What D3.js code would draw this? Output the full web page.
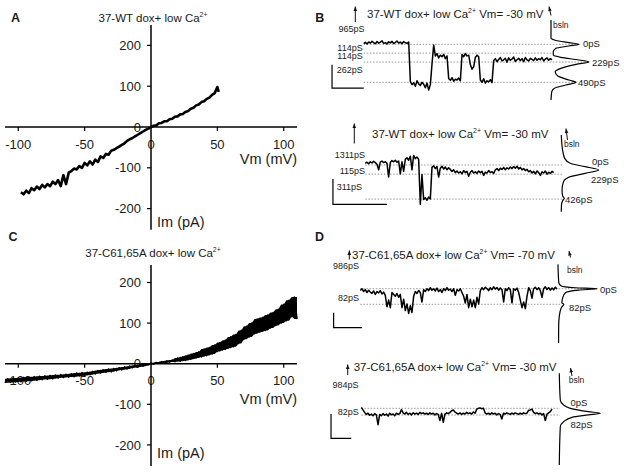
<!DOCTYPE html>
<html><head><meta charset="utf-8">
<script src="https://cdn.jsdelivr.net/npm/d3@7"></script>
<style>
body{margin:0;background:#fff}
svg text{font-family:"Liberation Sans",Arial,Helvetica,sans-serif;fill:#1a1a1a}
</style></head>
<body><svg id="chart" width="624" height="472"></svg>
<script>
// ================= DATA =================
const ivTicksX = [-100, -50, 0, 50, 100];
const ivTicksY = [-200, -100, 0, 100, 200];

// Panel A : 37-WT I/V ramp (Vm mV, Im pA)
const aVm = [-98,-96,-94,-92,-90,-88,-86,-84,-82,-80,-78,-76,-74,-72,-70,-68,-66,-64,-62,-60,
  -58,-56,-54,-52,-50,-48,-46,-44,-42,-40,-38,-36,-34,-32,-30,-28,-26,-24,-22,-20,
  -18,-16,-14,-12,-10,-8,-6,-4,-2,0,2,4,6,8,10,12,14,16,18,20,
  22,24,26,28,30,32,34,36,38,40,42,44,46,48,50,51];
const aIm = [-160,-165,-156,-162,-150,-155,-146,-152,-142,-148,-140,-145,-134,-140,-130,-145,-118,-140,-112,-108,
  -102,-104,-96,-100,-88,-94,-84,-92,-80,-86,-72,-76,-66,-68,-58,-56,-52,-48,-44,-40,
  -34,-30,-27,-23,-19,-15,-11,-7,-4,0,3,4,9,10,14,14,19,20,25,26,
  31,32,37,39,45,47,53,55,61,63,69,72,79,83,98,86];

// Panel C : 37-C61,65A I/V ramp (noisy band, alternating samples)
const cVm = [-110,-108,-106,-104,-102,-100,-98,-96,-94,-92,-90,-88,-86,-84,-82,-80,-78,-76,-74,-72,
  -70,-68,-66,-64,-62,-60,-58,-56,-54,-52,-50,-48,-46,-44,-42,-40,-38,-36,-34,-32,
  -30,-28,-26,-24,-22,-20,-18,-16,-14,-12,-10,-8,-6,-4,-2,0,2,4,6,8,
  10,12,14,16,18,20,22,24,26,28,30,32,34,36,38,40,42,44,46,48,
  50,52,54,56,58,60,62,64,66,68,70,72,74,76,78,80,82,84,86,88,
  90,92,94,96,98,100,102,104,106,108,110];
const cIm = [-47,-37,-46,-36,-45,-35,-44,-34,-43,-33,-42,-32,-41,-31,-39,-30,-38,-29,-37,-28,
  -35,-27,-34,-26,-33,-25,-32,-23,-30,-22,-29,-21,-27,-19,-25,-17,-23,-15,-21,-13,
  -20,-12,-17,-10,-15,-8,-13,-6,-10,-4,-8,-2,-6,0,-3,1,-1,3,1,5,
  2,7,4,9,5,14,6,17,8,21,11,25,14,29,17,36,20,40,24,46,
  30,52,34,58,38,66,42,72,50,82,60,92,66,100,74,110,78,114,82,120,
  88,126,94,134,100,146,106,156,116,164,110];

// Panel B (top) : single-channel conductance trace (pS), uniform samples
const bTopTrace = [-10,-25,-5,-30,-15,-40,-20,-8,-35,-15,-28,-45,-12,-22,-5,-32,-18,-38,-10,-25,-42,-15,-28,-8,-35,-20,-12,-30,
  480,520,495,540,470,510,530,490,515,560,500,590,520,
  250,10,
  150,120,175,140,160,130,185,150,
  440,465,430,475,450,460,435,470,
  130,160,120,150,140,
  260,320,290,
  170,140,160,
  460,490,445,500,470,485,455,495,
  210,185,225,195,170,215,200,180,230,175,205,190,165,220,200,180,210,185,225,170,200,215,180,195,210,175,205,185,200,170,215,190,175,205,185,200];
const bTopLevels = [0, 114, 229, 490];
const bTopHistLv = [-313,-77,-56,-21,0,22,52,95,138,168,202,228,258,310,353,409,460,490,525,567,610,719];
const bTopHistCt = [0,0,9,47,74,47,13,6,6,26,74,100,66,26,11,18,47,66,39,9,2,0];

// Panel B (bottom)
const bBotTrace = [-20,-35,-15,-40,-25,-45,-30,-10,60,-35,-50,-30,-40,-20,150,-30,-55,-40,-60,-35,-50,110,-40,80,-70,-90,-60,-110,60,-120,-80,-100,-70,
  490,120,430,410,440,400,425,
  30,10,45,20,150,40,15,50,25,60,35,55,80,60,95,75,100,85,110,70,95,80,140,90,70,100,85,105,75,95,80,130,90,100,70,95,85,105,
  60,45,70,40,55,30,60,35,50,25,45,20,40,15,50,30,60,45,70,55,85,70,100,80,110,75,95,130,85,100,75,115,90,105,80,95];
const bBotLevels = [0, 115, 426];
const bBotHistLv = [-375,-187,-83,-21,21,62,104,146,208,312,387,417,446,500,583];
const bBotHistCt = [0,3.5,9,24,64,100,64,24,6,2,3.5,8,3.5,0.5,0];

// Panel D (top)
const dTopTrace = [10,0,15,5,20,8,18,25,12,30,15,22,10,28,18,35,95,60,100,20,30,40,25,45,30,100,55,115,80,130,90,125,40,15,25,10,20,70,5,15,
  0,10,-5,8,0,12,-3,15,5,20,0,10,-5,8,2,15,0,35,5,12,0,20,40,75,30,100,55,95,60,100,45,80,10,-5,5,-8,0,10,-5,5,
  -10,2,-6,8,-4,6,70,0,10,-5,5,75,0,8,-3,20,60,100,70,105,40,-5,10,50,0,-8,5,-5,10,45,0,-10,5,-6,8,-4,6,-8,2];
const dTopLevels = [0, 82];
const dTopHistLv = [-128,-32,-14,-5,0,7,21,47,74,82,100,144,197,286];
const dTopHistCt = [0,2,8.5,44,100,53,19,12,10,15,8.5,3.3,1.7,1.5];

// Panel D (bottom)
const dBotTrace = [-10,20,50,75,60,85,70,90,65,80,200,75,90,65,85,70,95,60,80,70,90,60,75,65,15,55,70,50,75,60,
  80,55,70,60,75,50,65,55,70,60,75,55,70,60,80,65,75,150,60,170,70,55,65,50,30,20,45,60,70,55,
  75,60,70,50,65,55,70,45,60,10,0,-5,5,0,55,70,60,75,55,70,60,80,65,75,130,60,70,55,65,75,
  60,70,55,65,75,60,70,55,65,60,25,20,10,50,65,55,70,60,80,65,150,70,55,40,10];
const dBotLevels = [0, 82];
const dBotHistLv = [-427,-101,-40,0,41,61,81,110,163,224,691];
const dBotHistCt = [0,2.4,10.5,27,71,100,71,31,10.5,2.4,0];

// ================= DRAWING =================
const svg = d3.select('#chart');

function addText(g, x, y, s, size, anchor, weight) {
  return g.append('text').attr('x', x).attr('y', y).attr('font-size', size)
    .attr('text-anchor', anchor || 'start').attr('font-weight', weight || 'normal').text(s);
}
function addSupText(g, x, y, pre, sup, post, size, anchor) {
  const t = g.append('text').attr('x', x).attr('y', y).attr('font-size', size)
    .attr('text-anchor', anchor || 'start');
  t.append('tspan').text(pre);
  t.append('tspan').attr('font-size', size * 0.6).attr('dy', -size * 0.42).text(sup);
  if (post) t.append('tspan').attr('dy', size * 0.42).text(post);
  return t;
}
function arrow(g, x1, y1, x2, y2) {
  g.append('line').attr('x1', x1).attr('y1', y1).attr('x2', x2).attr('y2', y2)
    .attr('stroke', '#111').attr('stroke-width', 1);
  const a = Math.atan2(y2 - y1, x2 - x1), L = 4.5, w = 1.8;
  const bx = x2 - L * Math.cos(a), by = y2 - L * Math.sin(a);
  const px = -Math.sin(a) * w, py = Math.cos(a) * w;
  g.append('path').attr('d', `M${x2},${y2}L${bx + px},${by + py}L${bx - px},${by - py}Z`).attr('fill', '#111');
}

// ---- I/V panels ----
function ivPanel(p) {
  const g = svg.append('g');
  const x = d3.scaleLinear().domain([-110, 110]).range([5, 297]);
  const y = d3.scaleLinear().domain([-250, 250]).range([p.yZero + 2.5 * p.px100, p.yZero - 2.5 * p.px100]);

  g.selectAll('.xt').data(ivTicksX).join('text')
    .attr('x', d => x(d)).attr('y', y(0) + 21.5).attr('font-size', 13).attr('text-anchor', 'middle').text(d => d);
  g.selectAll('.yt').data(ivTicksY).join('text')
    .attr('x', x(0) - 10).attr('y', d => y(d) + 4.6).attr('font-size', 13).attr('text-anchor', 'end').text(d => d);

  g.append('line').attr('x1', x(-110)).attr('x2', x(110)).attr('y1', y(0)).attr('y2', y(0))
    .attr('stroke', '#000').attr('stroke-width', 1.5);
  g.append('line').attr('x1', x(0)).attr('x2', x(0)).attr('y1', y(p.yTop)).attr('y2', y(-252))
    .attr('stroke', '#000').attr('stroke-width', 1.5);
  g.selectAll('.xk').data(ivTicksX.filter(d => d !== 0)).join('line')
    .attr('x1', d => x(d)).attr('x2', d => x(d)).attr('y1', y(0)).attr('y2', y(0) + 4)
    .attr('stroke', '#000').attr('stroke-width', 1.2);
  g.selectAll('.yk').data(ivTicksY.filter(d => d !== 0)).join('line')
    .attr('x1', x(0) - 4).attr('x2', x(0)).attr('y1', d => y(d)).attr('y2', d => y(d))
    .attr('stroke', '#000').attr('stroke-width', 1.2);

  if (p.band) {
    const n = p.i.length;
    const area = d3.area()
      .x((d, k) => x(p.v[k]))
      .y0((d, k) => y(Math.min(p.i[Math.max(0, k - 1)], d, p.i[Math.min(n - 1, k + 1)])))
      .y1((d, k) => y(Math.max(p.i[Math.max(0, k - 1)], d, p.i[Math.min(n - 1, k + 1)])));
    g.append('path').datum(p.i).attr('d', area).attr('fill', '#000');
  }
  const pts = p.v.map((v, k) => [x(v), y(p.i[k])]);
  g.append('path').datum(pts).attr('d', d3.line()).attr('fill', 'none')
    .attr('stroke', '#000').attr('stroke-width', p.sw).attr('stroke-linejoin', 'round');

  addText(g, 297, y(0) + p.vmOff, 'Vm (mV)', 14.5, 'end');
  addText(g, x(0) + 6, y(0) + p.imOff, 'Im (pA)', 14.5, 'start');
  addSupText(g, x(0) + 2, p.titleY, p.title, '2+', '', 11.5, 'middle');
  addText(g, p.letterX, p.letterY, p.letter, 12.5, 'start', 'bold');
}

ivPanel({v: aVm, i: aIm, yZero: 127, px100: 40.8, yTop: 250, sw: 2.6, vmOff: 37, imOff: 99.5, band: false,
  title: '37-WT dox+  low Ca', titleY: 21.5, letter: 'A', letterX: 11, letterY: 21.7});
ivPanel({v: cVm, i: cIm, yZero: 363.7, px100: 40.6, yTop: 243, sw: 1.6, vmOff: 40, imOff: 94.6, band: true,
  title: '37-C61,65A dox+  low Ca', titleY: 256.5, letter: 'C', letterX: 8.5, letterY: 240.5});

// ---- single-channel trace panels ----
function tracePanel(p) {
  const g = svg.append('g');
  const x = d3.scaleLinear().domain([0, p.trace.length - 1]).range([p.x0, p.x1]);
  const y = d3.scaleLinear().domain([0, 100]).range([p.yZero, p.yZero + 100 * p.pxPerPS]);

  p.levels.forEach((lv, k) => {
    g.append('line').attr('x1', p.x0).attr('x2', p.levelEnds[k]).attr('y1', y(lv)).attr('y2', y(lv))
      .attr('stroke', '#8c8c8c').attr('stroke-width', 0.9).attr('stroke-dasharray', '1.5,1.6');
  });

  g.append('path').datum(p.trace).attr('d', d3.line().x((d, i) => x(i)).y(d => y(d)))
    .attr('fill', 'none').attr('stroke', '#000').attr('stroke-width', 1.5).attr('stroke-linejoin', 'round');

  const hx = d3.scaleLinear().domain([0, 100]).range([p.histBase, p.histBase + p.histWidth]);
  const hp = p.histLv.map((lv, k) => [hx(p.histCt[k]), y(lv)]);
  g.append('path').datum(hp).attr('d', d3.line().curve(d3.curveMonotoneY))
    .attr('fill', 'none').attr('stroke', '#000').attr('stroke-width', 1.2);

  const b = p.bar;
  g.append('path').attr('d', `M${x(b.t0)},${y(b.ps - b.psLen)}V${y(b.ps)}H${x(b.t0 + b.tLen)}`)
    .attr('fill', 'none').attr('stroke', '#000').attr('stroke-width', 1.2);

  addSupText(g, p.titleX, p.titleY, p.title, '2+', p.titlePost, 11.5, 'start');
  p.left.forEach(l => addText(g, l[1], l[2], l[0], 9, 'end'));
  p.right.forEach(l => addText(g, l[1], l[2], l[0], 9.5, 'start'));
  addText(g, p.bsln[0], p.bsln[1], 'bsln', 8.5, 'start');
  arrow(g, p.arr[0], p.arr[1], p.arr[2], p.arr[3]);
  arrow(g, p.barr[0], p.barr[1], p.barr[2], p.barr[3]);
  if (p.letter) addText(g, p.letter[1], p.letter[2], p.letter[0], 12.5, 'start', 'bold');
}

tracePanel({trace: bTopTrace, x0: 363.7, x1: 552, yZero: 44.3, pxPerPS: 0.0776,
  levels: bTopLevels, levelEnds: [581, 552, 590, 577],
  histLv: bTopHistLv, histCt: bTopHistCt, histBase: 551, histWidth: 38,
  bar: {t0: -19, tLen: 19, ps: 565, psLen: 300},
  title: '37-WT dox+  low Ca', titlePost: ' Vm= -30 mV', titleX: 367, titleY: 17.5,
  left: [['965pS', 364.5, 32.3], ['114pS', 362.7, 50.7], ['114pS', 362.7, 59.3], ['262pS', 362.7, 72.7]],
  right: [['0pS', 583, 47.3], ['229pS', 592, 66], ['490pS', 578, 85.7]],
  bsln: [553, 28.3], arr: [355.3, 22, 355.3, 6.5], barr: [551, 15.5, 549, 6.5],
  letter: ['B', 315.3, 21.7]});

tracePanel({trace: bBotTrace, x0: 365.3, x1: 553.7, yZero: 165, pxPerPS: 0.08,
  levels: bBotLevels, levelEnds: [562, 562, 562],
  histLv: bBotHistLv, histCt: bBotHistCt, histBase: 561.3, histWidth: 37.4,
  bar: {t0: -19.4, tLen: 32.4, ps: 491, psLen: 316},
  title: '37-WT dox+  low Ca', titlePost: ' Vm= -30 mV', titleX: 372, titleY: 138.3,
  left: [['1311pS', 365, 158.3], ['115pS', 365, 174], ['311pS', 362, 190]],
  right: [['0pS', 592, 165], ['229pS', 591, 183.3], ['426pS', 565, 202.7]],
  bsln: [564, 146.7], arr: [354.3, 143.5, 354.3, 123.5], barr: [567.5, 140, 566, 128.5],
  letter: null});

tracePanel({trace: dTopTrace, x0: 360.3, x1: 557, yZero: 288.7, pxPerPS: 0.19,
  levels: dTopLevels, levelEnds: [598, 562],
  histLv: dTopHistLv, histCt: dTopHistCt, histBase: 558, histWidth: 39,
  bar: {t0: -16, tLen: 17, ps: 205, psLen: 79},
  title: '37-C61,65A dox+  low Ca', titlePost: ' Vm= -70 mV', titleX: 352, titleY: 259.3,
  left: [['986pS', 359, 268.7], ['82pS', 359, 301]],
  right: [['0pS', 600, 292.7], ['82pS', 569, 311]],
  bsln: [567, 272.7], arr: [349.3, 259.5, 349.3, 250.5], barr: [570.5, 257.5, 569, 251],
  letter: ['D', 315, 241]});

tracePanel({trace: dBotTrace, x0: 361.3, x1: 552, yZero: 408.3, pxPerPS: 0.082,
  levels: dBotLevels, levelEnds: [560, 560],
  histLv: dBotHistLv, histCt: dBotHistCt, histBase: 559.3, histWidth: 41,
  bar: {t0: -18.1, tLen: 12.1, ps: 366, psLen: 296},
  title: '37-C61,65A dox+  low Ca', titlePost: ' Vm= -30 mV', titleX: 353.7, titleY: 370.5,
  left: [['984pS', 358.5, 387.7], ['82pS', 358.7, 415]],
  right: [['0pS', 570.5, 406], ['82pS', 570.5, 428.3]],
  bsln: [568.7, 382.7], arr: [347.7, 375, 347.7, 364.5], barr: [572, 376, 570.5, 368],
  letter: null});
</script>
</body></html>
